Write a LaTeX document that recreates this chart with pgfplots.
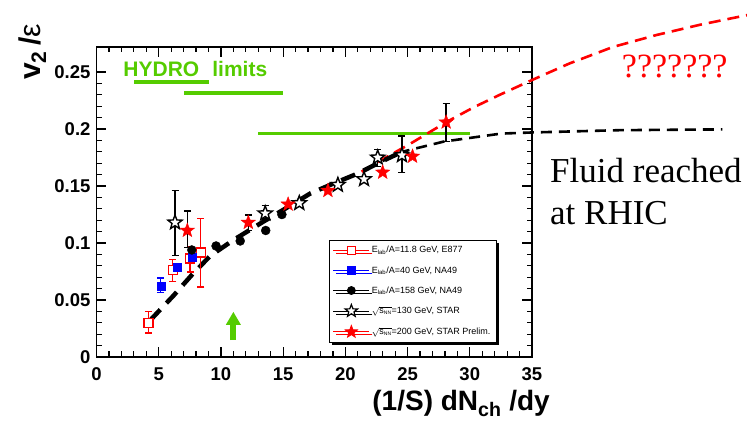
\documentclass[border=0pt]{standalone}
\usepackage{fontspec}
\setmainfont{Liberation Serif}
\newfontfamily\arial{Liberation Sans}
\usepackage{pgfplots}
\pgfplotsset{compat=1.18}
\usetikzlibrary{arrows.meta,shadows}
\definecolor{hgreen}{RGB}{85,204,0}
\pgfdeclareplotmark{pstar}{%
 \pgfpathmoveto{\pgfpointpolar{90}{\pgfplotmarksize}}%
 \pgfpathlineto{\pgfpointpolar{126}{0.42\pgfplotmarksize}}%
 \pgfpathlineto{\pgfpointpolar{162}{\pgfplotmarksize}}%
 \pgfpathlineto{\pgfpointpolar{198}{0.42\pgfplotmarksize}}%
 \pgfpathlineto{\pgfpointpolar{234}{\pgfplotmarksize}}%
 \pgfpathlineto{\pgfpointpolar{270}{0.42\pgfplotmarksize}}%
 \pgfpathlineto{\pgfpointpolar{306}{\pgfplotmarksize}}%
 \pgfpathlineto{\pgfpointpolar{342}{0.42\pgfplotmarksize}}%
 \pgfpathlineto{\pgfpointpolar{18}{\pgfplotmarksize}}%
 \pgfpathlineto{\pgfpointpolar{54}{0.42\pgfplotmarksize}}%
 \pgfpathclose
 \pgfusepathqfillstroke}
\begin{document}
\begin{tikzpicture}
\begin{axis}[
 at={(0pt,0pt)}, anchor=south west,
 scale only axis, width=435.5pt, height=310pt,
 xmin=0, xmax=35, ymin=0, ymax=0.272,
 clip=false,
 axis line style={line width=1.8pt},
 xtick={0,5,10,15,20,25,30,35},
 ytick={0,0.05,0.1,0.15,0.2,0.25},
 minor x tick num=4, minor y tick num=4,
 tick align=inside,
 major tick length=10pt, minor tick length=5.5pt,
 every tick/.style={black, line width=1.2pt},
 /pgf/number format/assume math mode=true,
 ticklabel style={font=\arial\bfseries\fontsize{18.5}{22}\selectfont},
 xticklabel style={yshift=-7pt},
 yticklabel style={xshift=-2.5pt, /pgf/number format/fixed, /pgf/number format/precision=2},
 scaled y ticks=false,
 xlabel={(1/S) dN\textsubscript{ch} /dy},
 ylabel={\bfseries v\textsubscript{2}\,/\mdseries ε},
 every axis x label/.style={at={(axis description cs:1.0413,-0.1742)}, anchor=base east, inner sep=0pt, font=\arial\bfseries\fontsize{28}{30}\selectfont},
 every axis y label/.style={at={(axis description cs:-0.1297,0.8935)}, rotate=90, anchor=base west, inner sep=0pt, font=\arial\fontsize{30}{32}\selectfont},
 legend style={at={(axis cs:18.65,0.1026)}, anchor=north west,
   font=\arial\fontsize{9}{10}\selectfont, draw=black, line width=0.8pt,
   fill=white, row sep=8pt, inner sep=4pt,
   drop shadow={fill=black, opacity=1, shadow xshift=3pt, shadow yshift=-3pt}},
 legend cell align=left,
 legend image code/.code={\draw[mark repeat=2,mark phase=2,#1] plot coordinates {(0pt,0pt) (18pt,0pt) (36pt,0pt)};},
 error bars/error bar style={line width=1.3pt},
 error bars/error mark options={line width=1.3pt, mark size=3.5pt, rotate=90},
]
% legend images
\addlegendimage{red, line width=0.8pt, mark=square*, mark size=4pt, mark options={fill=white, line width=1.2pt}}
\addlegendentry{E\textsubscript{lab}/A=11.8 GeV, E877}
\addlegendimage{blue, line width=0.8pt, mark=square*, mark size=4pt}
\addlegendentry{E\textsubscript{lab}/A=40 GeV, NA49}
\addlegendimage{black, line width=0.8pt, mark=*, mark size=4pt}
\addlegendentry{E\textsubscript{lab}/A=158 GeV, NA49}
\addlegendimage{black, line width=0.8pt, mark=pstar, mark size=6.5pt, mark options={fill=white, line width=1.2pt}}
\addlegendentry{$\sqrt{\mbox{s}_{\mbox{\fontsize{5}{6}\selectfont NN}}}$=130 GeV, STAR}
\addlegendimage{red, line width=0.8pt, mark=pstar, mark size=6.5pt, mark options={fill=red}}
\addlegendentry{$\sqrt{\mbox{s}_{\mbox{\fontsize{5}{6}\selectfont NN}}}$=200 GeV, STAR Prelim.}
% HYDRO limits
\addplot[forget plot, hgreen, line width=3.5pt] coordinates {(3.04,0.2415) (9.05,0.2415)};
\addplot[forget plot, hgreen, line width=3.5pt] coordinates {(7.04,0.2318) (14.98,0.2318)};
\addplot[forget plot, hgreen, line width=3.5pt] coordinates {(13.0,0.196) (30.0,0.196)};
% curves
\addplot[forget plot, red, line width=2.6pt, dash pattern=on 12pt off 7pt] coordinates {
 (21.3,0.1626) (23,0.1735) (25.2,0.187) (28.1,0.206) (30.3,0.219) (32.4,0.230) (35,0.243)
 (38,0.2575) (41.5,0.272) (45,0.2825) (48.5,0.2915) (52.3,0.300) (54,0.3035)};
\addplot[forget plot, black, line width=2.6pt, dash pattern=on 11pt off 7pt] coordinates {
 (23,0.172) (24.55,0.180) (27.9,0.189) (32.5,0.196) (35,0.197) (42,0.199) (50.3,0.1997)};
\addplot[forget plot, black, line width=4.5pt, dash pattern=on 15pt off 9pt] coordinates {
 (4.3,0.032) (6.2,0.054) (7.66,0.072) (9.13,0.0886) (11,0.1026) (13.4,0.1187) (15.3,0.131)
 (17.2,0.1436) (19,0.152) (21,0.161) (23,0.172) (24.55,0.180)};
% E877
\addplot[forget plot, only marks, red, mark=square*, mark size=4.5pt, mark options={fill=white, line width=1.5pt},
 error bars/.cd, y dir=both, y explicit] coordinates {
 (4.17,0.030) += (0,0.010) -= (0,0.009)
 (6.13,0.0763) += (0,0.009) -= (0,0.010)
 (7.52,0.0866) += (0,0.010) -= (0,0.012)
 (8.38,0.0915) += (0,0.030) -= (0,0.030)};
% NA49 40
\addplot[forget plot, only marks, blue, mark=square*, mark size=4pt,
 error bars/.cd, y dir=both, y explicit] coordinates {
 (5.16,0.0623) += (0,0.007) -= (0,0.006)
 (6.45,0.0787) += (0,0.003) -= (0,0.003)
 (7.71,0.0874) += (0,0.003) -= (0,0.003)};
% NA49 158
\addplot[forget plot, only marks, black, mark=*, mark size=4.5pt] coordinates {
 (7.66,0.0939) (9.61,0.0974) (11.55,0.1018) (13.6,0.111) (14.9,0.125)};
% STAR 130
\addplot[forget plot, only marks, black, mark=pstar, mark size=7.5pt, mark options={fill=white, line width=1.4pt},
 error bars/.cd, y dir=both, y explicit] coordinates {
 (6.31,0.118) += (0,0.028) -= (0,0.029)
 (13.56,0.126) += (0,0.007) -= (0,0.005)
 (16.3,0.135) += (0,0) -= (0,0)
 (19.4,0.151) += (0,0) -= (0,0)
 (21.5,0.156) += (0,0) -= (0,0)
 (22.6,0.175) += (0,0.007) -= (0,0.008)
 (24.55,0.177) += (0,0.017) -= (0,0.015)};
% STAR 200
\addplot[forget plot, only marks, red, mark=pstar, mark size=7.5pt, mark options={fill=red},
 error bars/.cd, y dir=both, y explicit, error bar style={black}] coordinates {
 (7.3,0.111) += (0,0.017) -= (0,0.015)
 (12.2,0.118) += (0,0.0066) -= (0,0.007)
 (15.4,0.134) += (0,0) -= (0,0)
 (18.6,0.146) += (0,0) -= (0,0)
 (23.0,0.162) += (0,0) -= (0,0)
 (25.4,0.176) += (0,0) -= (0,0)
 (28.1,0.206) += (0,0.0165) -= (0,0.017)};
% arrow
\draw[hgreen, line width=6pt, -{Triangle[width=14pt,length=13pt]}] (axis cs:11,0.0149) -- (axis cs:11,0.0397);
\end{axis}
\node[anchor=base west, text=hgreen, font=\arial\bfseries\fontsize{21}{22}\selectfont, inner sep=0pt] at (26.8pt,280.3pt) {HYDRO\hspace{13pt}limits};
\node[anchor=base west, text=red, font=\fontsize{34}{36}\selectfont, inner sep=0pt] at (525.2pt,279pt) {???????};
\node[anchor=base west, font=\fontsize{35}{36}\selectfont, inner sep=0pt] at (453.5pt,174pt) {Fluid reached};
\node[anchor=base west, font=\fontsize{35}{36}\selectfont, inner sep=0pt] at (453.5pt,132pt) {at RHIC};
\pgfresetboundingbox
\path[use as bounding box] (-96.5pt,-65pt) rectangle (650.5pt,357pt);
\end{tikzpicture}
\end{document}
